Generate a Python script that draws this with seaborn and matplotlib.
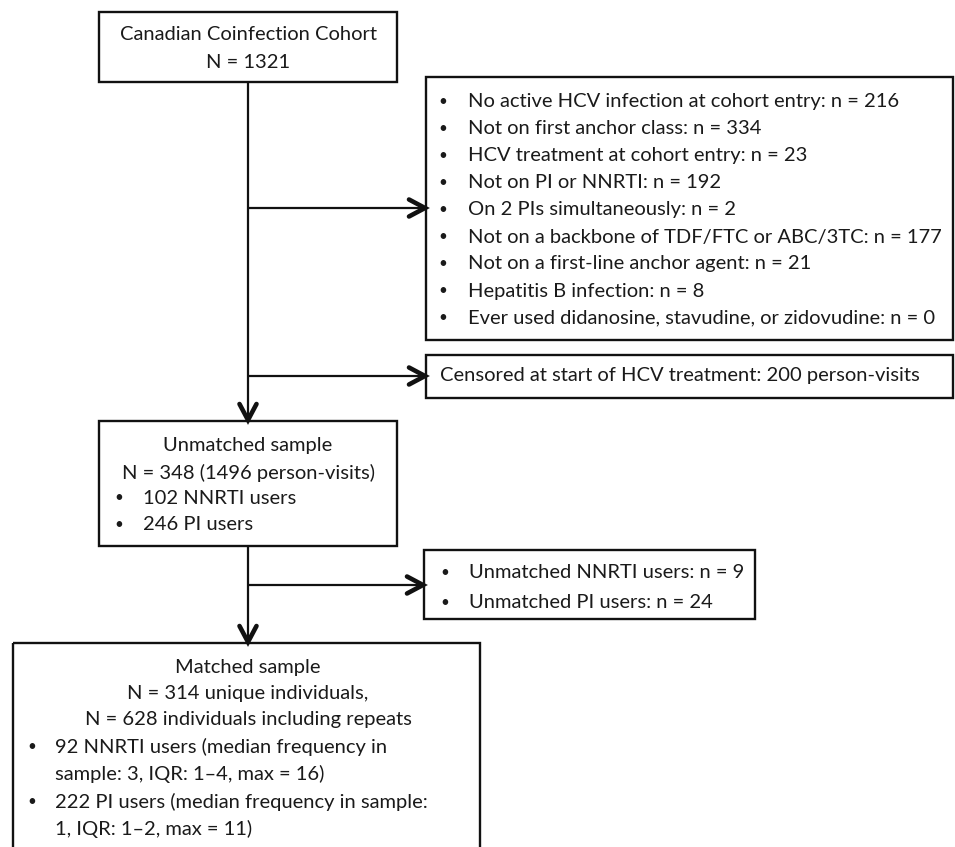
import matplotlib
matplotlib.use("Agg")
import matplotlib.pyplot as plt
import seaborn as sns
import numpy as np
from matplotlib.patches import Rectangle

# ------------------------------
# texts of the flow chart
# ------------------------------
cohort_lines = ["Canadian Coinfection Cohort", "N = 1321"]
excluded_items = [
    "No active HCV infection at cohort entry: n = 216",
    "Not on first anchor class: n = 334",
    "HCV treatment at cohort entry: n = 23",
    "Not on PI or NNRTI: n = 192",
    "On 2 PIs simultaneously: n = 2",
    "Not on a backbone of TDF/FTC or ABC/3TC: n = 177",
    "Not on a first-line anchor agent: n = 21",
    "Hepatitis B infection: n = 8",
    "Ever used didanosine, stavudine, or zidovudine: n = 0",
]
censored_text = "Censored at start of HCV treatment: 200 person-visits"
unmatched_lines = ["Unmatched sample", "N = 348 (1496 person-visits)"]
unmatched_items = ["102 NNRTI users", "246 PI users"]
dropped_items = ["Unmatched NNRTI users: n = 9", "Unmatched PI users: n = 24"]
matched_lines = ["Matched sample", "N = 314 unique individuals,",
                 "N = 628 individuals including repeats"]
matched_items = [
    ["92 NNRTI users (median frequency in", "sample: 3, IQR: 1\u20134, max = 16)"],
    ["222 PI users (median frequency in sample:", "1, IQR: 1\u20132, max = 11)"],
]

# ------------------------------
# style
# ------------------------------
sns.set_theme(style="white")
plt.rcParams["font.family"] = ["Lato", "DejaVu Sans"]
FS = 14.5
FS_DOT = 11
TXT = "#1a1a1a"
W, H = 955, 847

fig = plt.figure(figsize=(W / 100, H / 100), dpi=100)
ax = fig.add_axes([0, 0, 1, 1])
ax.set_xlim(0, W)
ax.set_ylim(H, 0)
ax.axis("off")

# boxes: x0, y0, x1, y1 (pixels)
b_cohort = (99, 12, 397, 82)
b_excl = (426, 77, 953, 340)
b_cens = (426, 355, 953, 398)
b_unm = (99, 421, 397, 546)
b_drop = (424, 550, 755, 619)
b_match = (13, 643, 480, 860)
xc = 248


def box(b):
    ax.add_patch(Rectangle((b[0], b[1]), b[2] - b[0], b[3] - b[1],
                           fill=False, ec="#111111", lw=1.7, clip_on=True))


def centered(lines, y0, step=26.5):
    for i, s in enumerate(lines):
        ax.text(xc, y0 + i * step, s, ha="center", va="center",
                fontsize=FS, color=TXT)


def dot(x, y):
    ax.text(x, y, "\u2022", ha="center", va="center", fontsize=FS_DOT, color=TXT)


def bullets(items, xb, xt, y0, step=26.8):
    for i, s in enumerate(items):
        y = y0 + i * step
        dot(xb, y)
        ax.text(xt, y, s, ha="left", va="center", fontsize=FS, color=TXT)


def arrow(x0, y0, x1, y1):
    ax.plot([x0, x1], [y0, y1], color="#111111", lw=1.6, solid_capstyle="butt")
    d = np.array([x1 - x0, y1 - y0], float)
    d /= np.hypot(*d)
    n = np.array([-d[1], d[0]])
    tip = np.array([x1, y1], float)
    a = tip - 16 * d + 8.5 * n
    c = tip - 16 * d - 8.5 * n
    ax.plot([a[0], tip[0], c[0]], [a[1], tip[1], c[1]], color="#111111",
            lw=3.3, solid_joinstyle="miter", solid_capstyle="round")


for b in (b_cohort, b_excl, b_cens, b_unm, b_drop, b_match):
    box(b)

centered(cohort_lines, 35, 28)
bullets(excluded_items, 443, 468, 102, 27)
ax.text(440, 376, censored_text, ha="left", va="center", fontsize=FS, color=TXT)
centered(unmatched_lines, 445, 28)
bullets(unmatched_items, 119, 143, 498, 27)
bullets(dropped_items, 445, 469, 573, 30)
centered(matched_lines, 667, 26)
y = 747
for item in matched_items:
    dot(32, y)
    for j, s in enumerate(item):
        ax.text(55, y + j * 27, s, ha="left", va="center", fontsize=FS, color=TXT)
    y += 55

# connectors
arrow(xc, b_cohort[3], xc, b_unm[1] - 1)
arrow(xc, 208, b_excl[0] - 1, 208)
arrow(xc, 376, b_cens[0] - 1, 376)
arrow(xc, b_unm[3], xc, b_match[1] - 1)
arrow(xc, 585, b_drop[0] - 1, 585)

fig.savefig("out.png", dpi=100, facecolor="white")
